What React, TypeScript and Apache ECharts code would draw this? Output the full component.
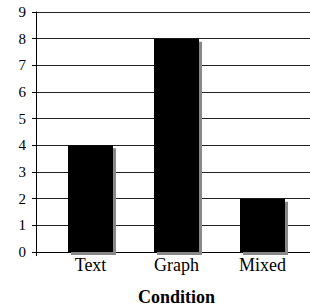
import React, { useEffect, useRef } from "react";
import * as echarts from "echarts";

const categories = ["Text", "Graph", "Mixed"];
const values = [4, 8, 2];
const yMin = 0;
const yMax = 9;
const yInterval = 1;
const xTitle = "Condition";

const FONT = "'Liberation Serif', 'Times New Roman', serif";

export default function App() {
  const ref = useRef<HTMLDivElement>(null);
  useEffect(() => {
    if (!ref.current) return;
    const chart = echarts.init(ref.current, undefined, { renderer: "svg" });
    chart.setOption({
      animation: false,
      backgroundColor: "#ffffff",
      grid: [
        { left: 36, right: 0, top: 12, bottom: 55, outerBoundsMode: "none", containLabel: false },
        { left: 47.5, right: 4.5, top: 12, bottom: 55, outerBoundsMode: "none", containLabel: false },
      ],
      xAxis: [
        {
          gridIndex: 0,
          type: "value",
          min: 0,
          max: 1,
          interval: 1,
          axisLine: { show: true, onZero: false, lineStyle: { color: "#000", width: 1 } },
          axisTick: { show: true, length: 4, lineStyle: { color: "#000" } },
          axisLabel: { show: false },
          splitLine: { show: false },
        },
        {
          gridIndex: 1,
          type: "category",
          data: categories,
          axisLine: { show: false },
          axisTick: { show: false },
          axisLabel: {
            show: true,
            fontFamily: FONT,
            fontSize: 18,
            color: "#000",
            margin: 4,
          },
          name: xTitle,
          nameLocation: "middle",
          nameGap: 36,
          nameTextStyle: {
            fontFamily: FONT,
            fontSize: 18,
            fontWeight: "bold",
            color: "#000",
          },
        },
      ],
      yAxis: [
        {
          gridIndex: 0,
          type: "value",
          min: yMin,
          max: yMax,
          interval: yInterval,
          axisLine: { show: true, lineStyle: { color: "#000", width: 1 } },
          axisTick: { show: true, length: 4, lineStyle: { color: "#000" } },
          axisLabel: {
            fontFamily: FONT,
            fontSize: 15,
            color: "#000",
            margin: 10,
          },
          splitLine: { show: true, lineStyle: { color: "#222", width: 1 } },
        },
        {
          gridIndex: 1,
          type: "value",
          min: yMin,
          max: yMax,
          interval: yInterval,
          show: false,
          splitLine: { show: false },
        },
      ],
      series: [
        {
          type: "bar",
          xAxisIndex: 1,
          yAxisIndex: 1,
          data: values,
          barWidth: 45,
          itemStyle: {
            color: "#000",
            shadowColor: "#888",
            shadowBlur: 0,
            shadowOffsetX: 3,
            shadowOffsetY: 3,
          },
          z: 3,
        },
      ],
    });
    return () => chart.dispose();
  }, []);
  return (
    <div
      ref={ref}
      style={{ position: "fixed", left: 0, top: 0, width: 310, height: 307 }}
    />
  );
}
